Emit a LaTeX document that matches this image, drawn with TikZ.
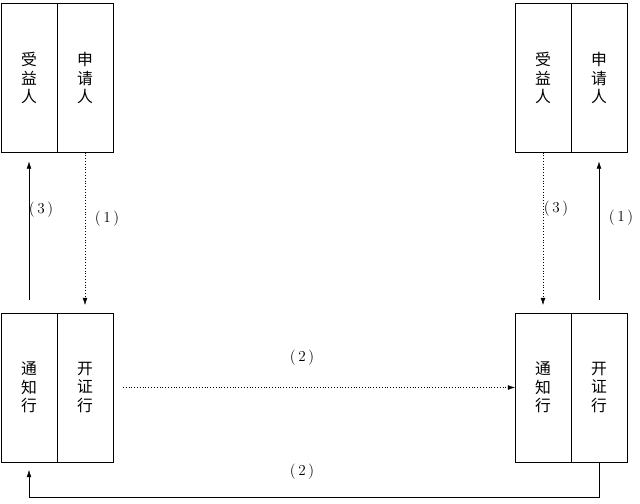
\documentclass[tikz,border=0pt]{standalone}
\usepackage{fontspec}
\newfontfamily\cjk{Noto Sans CJK SC}
\usetikzlibrary{positioning,arrows.meta}

\begin{document}
\begin{tikzpicture}[x=0.03cm,y=-0.03cm,>={Latex[length=6pt,width=4pt]},
  half/.style={draw,outer sep=0pt,inner sep=0pt,minimum width=1.68cm,minimum height=4.47cm,
    align=center,font=\cjk\fontsize{13.5}{16}\selectfont},
  tag/.style={font=\fontsize{13}{15}\selectfont}]
  \useasboundingbox (0,0) rectangle (640,504);

  % parties on the left
  \node[half] (ben1) at (29,78) {受\\益\\人};
  \node[half,right=0pt of ben1] (app1) {申\\请\\人};
  \node[half] (adv1) at (29,387.5) {通\\知\\行};
  \node[half,right=0pt of adv1] (iss1) {开\\证\\行};

  % parties on the right
  \node[half] (ben2) at (543,78) {受\\益\\人};
  \node[half,right=0pt of ben2] (app2) {申\\请\\人};
  \node[half] (adv2) at (543,387.5) {通\\知\\行};
  \node[half,right=0pt of adv2] (iss2) {开\\证\\行};

  % left side flows
  \draw[->,shorten <=0.39cm,shorten >=0.27cm] (adv1.north) -- (ben1.south);
  \draw[->,dotted,shorten >=0.24cm] (app1.south) -- (iss1.north);
  \node[tag] (t3a) at (41,210) {(\,3\,)};
  \node[tag] (t1a) at (107,219) {(\,1\,)};

  % right side flows
  \draw[->,dotted,shorten >=0.24cm] (ben2.south) -- (adv2.north);
  \draw[->,shorten <=0.39cm,shorten >=0.27cm] (iss2.north) -- (app2.south);
  \node[tag] (t3b) at (556,209) {(\,3\,)};
  \node[tag] (t1b) at (621,218) {(\,1\,)};

  % between the banks
  \draw[->,dotted,shorten <=0.3cm] (iss1.east) -- (adv2.west);
  \node[tag] (t2a) at (302,358) {(\,2\,)};
  \draw[->,shorten >=0.24cm] (iss2.south) -- ++(0,35) -| (adv1.south);
  \node[tag] (t2b) at (302,472) {(\,2\,)};
\end{tikzpicture}
\end{document}
